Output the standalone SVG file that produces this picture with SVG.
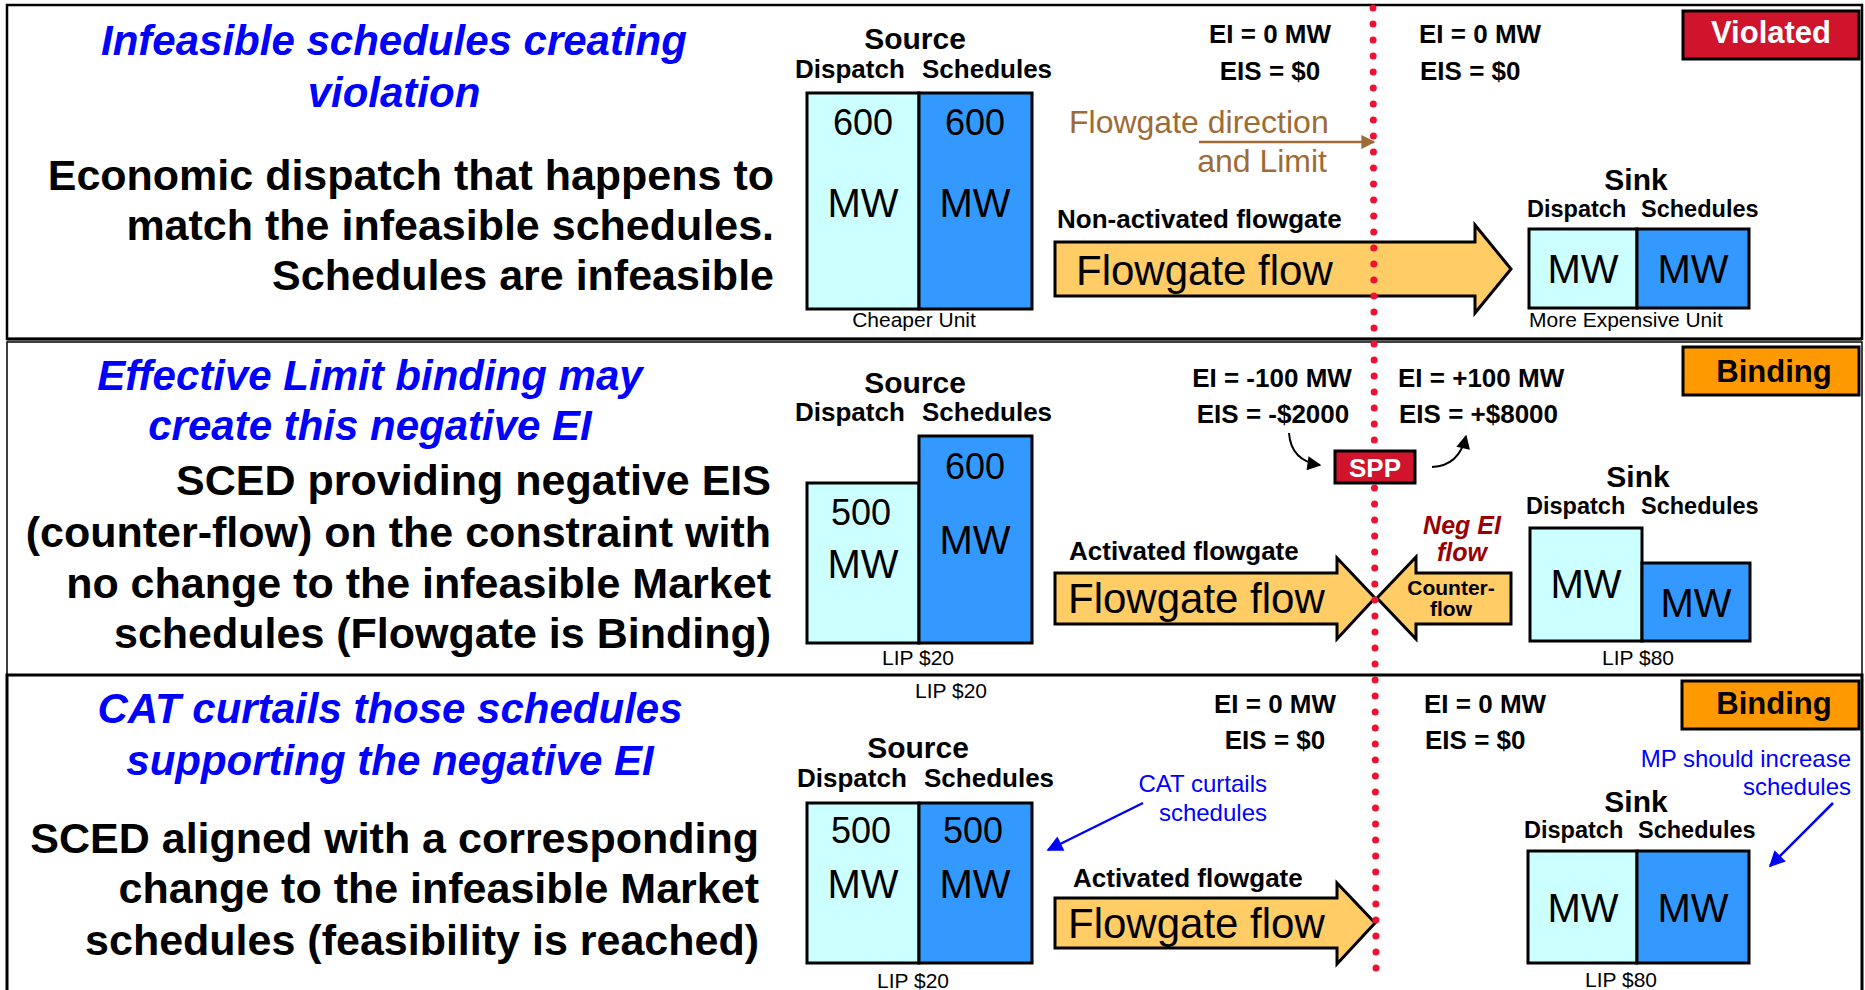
<svg xmlns="http://www.w3.org/2000/svg" width="1865" height="990" viewBox="0 0 1865 990">
<defs>
<style>
text{font-family:"Liberation Sans",Arial,sans-serif;}
.title{font-size:42px;font-weight:bold;font-style:italic;fill:#0000FF;text-anchor:middle;}
.body{font-size:43px;font-weight:bold;fill:#000;text-anchor:end;}
.hdr{font-size:30px;font-weight:bold;fill:#000;text-anchor:middle;}
.col{font-size:26px;font-weight:bold;fill:#000;}
.scol{font-size:23.5px;font-weight:bold;fill:#000;}
.num{font-size:36px;fill:#000;text-anchor:middle;}
.mw{font-size:40px;fill:#000;text-anchor:middle;}
.small{font-size:21px;fill:#000;}
.ei{font-size:26px;font-weight:bold;fill:#000;}
.lbl{font-size:26px;font-weight:bold;fill:#000;}
.ff{font-size:42px;fill:#000;}
.note{font-size:24px;fill:#0000FF;}
.neg{font-size:25px;font-weight:bold;font-style:italic;fill:#990000;text-anchor:middle;}
.light{fill:#CCFFFF;stroke:#000;stroke-width:3;}
.dark{fill:#3399FF;stroke:#000;stroke-width:3;}
.arrow{fill:#FFCC66;stroke:#000;stroke-width:3;stroke-linejoin:miter;}
.panel{fill:#FFFFFF;stroke:#000;}
.status{font-size:31px;font-weight:bold;text-anchor:middle;}
</style>
<marker id="mBrown" viewBox="0 0 10 10" refX="9" refY="5" markerUnits="userSpaceOnUse" markerWidth="16" markerHeight="14" orient="auto"><path d="M0,0 L10,5 L0,10 z" fill="#9E6B37"/></marker>
<marker id="mBlack" viewBox="0 0 10 10" refX="9" refY="5" markerUnits="userSpaceOnUse" markerWidth="16" markerHeight="14" orient="auto"><path d="M0,0 L10,5 L0,10 z" fill="#000"/></marker>
<marker id="mBlue" viewBox="0 0 10 10" refX="9" refY="5" markerUnits="userSpaceOnUse" markerWidth="20" markerHeight="16" orient="auto"><path d="M0,0 L10,5 L0,10 z" fill="#0000FF"/></marker>
</defs>
<rect width="1865" height="990" fill="#FFFFFF"/>

<g id="panels">
<rect class="panel" x="7" y="5" width="1855" height="334" stroke-width="2.5"/>
<rect class="panel" x="7" y="342" width="1855" height="333" stroke-width="1.5"/>
<line x1="7" y1="339" x2="1862" y2="339" stroke="#000" stroke-width="3"/>
<rect class="panel" x="7" y="675" width="1855" height="330" stroke-width="3"/>
</g>

<!-- Panel 1 -->
<g id="p1-text">
<text class="title" x="394" y="55">Infeasible schedules creating</text>
<text class="title" x="394" y="107">violation</text>
<text class="body" x="774" y="190">Economic dispatch that happens to</text>
<text class="body" x="774" y="240">match the infeasible schedules.</text>
<text class="body" x="774" y="290">Schedules are infeasible</text>
</g>
<g id="p1-source">
<text class="hdr" x="915" y="49">Source</text>
<text class="col" x="795" y="78">Dispatch</text>
<text class="col" x="922" y="78">Schedules</text>
<rect class="light" x="807" y="93" width="112" height="216"/>
<rect class="dark" x="919" y="93" width="113" height="216"/>
<text class="num" x="863" y="135">600</text>
<text class="mw" x="863" y="217">MW</text>
<text class="num" x="975" y="135">600</text>
<text class="mw" x="975" y="217">MW</text>
<text class="small" x="914" y="327" text-anchor="middle">Cheaper Unit</text>
</g>
<g id="p1-ei">
<text class="ei" x="1270" y="43" text-anchor="middle">EI = 0 MW</text>
<text class="ei" x="1270" y="80" text-anchor="middle">EIS = $0</text>
<text class="ei" x="1419" y="43">EI = 0 MW</text>
<text class="ei" x="1420" y="80">EIS = $0</text>
</g>
<g id="p1-direction">
<text x="1069" y="133" font-size="32" fill="#9E6B37">Flowgate direction</text>
<text x="1327" y="172" font-size="32" fill="#9E6B37" text-anchor="end">and Limit</text>
</g>
<g id="p1-flow">
<text class="lbl" x="1057" y="228">Non-activated flowgate</text>
<polygon class="arrow" points="1055,242 1475,242 1475,225 1511,269 1475,313 1475,296 1055,296"/>
<text class="ff" x="1076" y="285">Flowgate flow</text>
</g>
<g id="p1-sink">
<text class="hdr" x="1636" y="190">Sink</text>
<text class="scol" x="1527" y="217">Dispatch</text>
<text class="scol" x="1641" y="217">Schedules</text>
<rect class="light" x="1529" y="229" width="108" height="79"/>
<rect class="dark" x="1637" y="229" width="112" height="79"/>
<text class="mw" x="1583" y="283">MW</text>
<text class="mw" x="1693" y="283">MW</text>
<text class="small" x="1529" y="327">More Expensive Unit</text>
</g>
<g id="p1-status">
<rect x="1683" y="11" width="176" height="48" fill="#D0142C" stroke="#000" stroke-width="3"/>
<text class="status" x="1771" y="43" fill="#FFFFFF">Violated</text>
</g>

<!-- Panel 2 -->
<g id="p2-text">
<text class="title" x="370" y="390">Effective Limit binding may</text>
<text class="title" x="370" y="440">create this negative EI</text>
<text class="body" x="771" y="495">SCED providing negative EIS</text>
<text class="body" x="771" y="547">(counter-flow) on the constraint with</text>
<text class="body" x="771" y="598">no change to the infeasible Market</text>
<text class="body" x="771" y="648">schedules (Flowgate is Binding)</text>
</g>
<g id="p2-source">
<text class="hdr" x="915" y="393">Source</text>
<text class="col" x="795" y="421">Dispatch</text>
<text class="col" x="922" y="421">Schedules</text>
<rect class="light" x="807" y="483" width="112" height="160"/>
<rect class="dark" x="919" y="436" width="113" height="207"/>
<text class="num" x="861" y="525">500</text>
<text class="mw" x="863" y="578">MW</text>
<text class="num" x="975" y="479">600</text>
<text class="mw" x="975" y="554">MW</text>
<text class="small" x="918" y="665" text-anchor="middle">LIP $20</text>
</g>
<g id="p2-ei">
<text class="ei" x="1272" y="387" text-anchor="middle">EI = -100 MW</text>
<text class="ei" x="1273" y="423" text-anchor="middle">EIS = -$2000</text>
<text class="ei" x="1398" y="387">EI = +100 MW</text>
<text class="ei" x="1399" y="423">EIS = +$8000</text>
</g>
<g id="p2-flow">
<text class="lbl" x="1069" y="560">Activated flowgate</text>
<polygon class="arrow" points="1055,573 1337,573 1337,558 1375,598 1337,639 1337,624 1055,624"/>
<text class="ff" x="1068" y="613">Flowgate flow</text>
</g>
<g id="p2-counterflow">
<polygon class="arrow" points="1511,573 1416,573 1416,557 1377,598 1416,639 1416,624 1511,624"/>
<text x="1451" y="595" font-size="21" font-weight="bold" text-anchor="middle">Counter-</text>
<text x="1451" y="616" font-size="21" font-weight="bold" text-anchor="middle">flow</text>
<text class="neg" x="1462" y="534">Neg EI</text>
<text class="neg" x="1462" y="561">flow</text>
</g>
<g id="p2-sink">
<text class="hdr" x="1638" y="487">Sink</text>
<text class="scol" x="1526" y="514">Dispatch</text>
<text class="scol" x="1641" y="514">Schedules</text>
<rect class="light" x="1530" y="528" width="112" height="113"/>
<rect class="dark" x="1642" y="563" width="108" height="78"/>
<text class="mw" x="1586" y="598">MW</text>
<text class="mw" x="1696" y="617">MW</text>
<text class="small" x="1638" y="665" text-anchor="middle">LIP $80</text>
</g>
<g id="p2-status">
<rect x="1683" y="347" width="176" height="48" fill="#FF9900" stroke="#000" stroke-width="3"/>
<text class="status" x="1774" y="382" fill="#000">Binding</text>
</g>

<!-- Panel 3 -->
<g id="p3-text">
<text class="title" x="390" y="723">CAT curtails those schedules</text>
<text class="title" x="390" y="775">supporting the negative EI</text>
<text class="body" x="759" y="853">SCED aligned with a corresponding</text>
<text class="body" x="759" y="903">change to the infeasible Market</text>
<text class="body" x="759" y="955">schedules (feasibility is reached)</text>
</g>
<g id="p3-source">
<text class="small" x="951" y="698" text-anchor="middle">LIP $20</text>
<text class="hdr" x="918" y="758">Source</text>
<text class="col" x="797" y="787">Dispatch</text>
<text class="col" x="924" y="787">Schedules</text>
<rect class="light" x="807" y="803" width="112" height="160"/>
<rect class="dark" x="919" y="803" width="113" height="160"/>
<text class="num" x="861" y="843">500</text>
<text class="mw" x="863" y="898">MW</text>
<text class="num" x="973" y="843">500</text>
<text class="mw" x="975" y="898">MW</text>
<text class="small" x="913" y="988" text-anchor="middle">LIP $20</text>
</g>
<g id="p3-ei">
<text class="ei" x="1275" y="713" text-anchor="middle">EI = 0 MW</text>
<text class="ei" x="1275" y="749" text-anchor="middle">EIS = $0</text>
<text class="ei" x="1424" y="713">EI = 0 MW</text>
<text class="ei" x="1425" y="749">EIS = $0</text>
</g>
<g id="p3-cat-note">
<text class="note" x="1267" y="792" text-anchor="end">CAT curtails</text>
<text class="note" x="1267" y="821" text-anchor="end">schedules</text>
</g>
<g id="p3-flow">
<text class="lbl" x="1073" y="887">Activated flowgate</text>
<polygon class="arrow" points="1055,898 1337,898 1337,883 1375,923 1337,964 1337,948 1055,948"/>
<text class="ff" x="1068" y="938">Flowgate flow</text>
</g>
<g id="p3-sink">
<text class="hdr" x="1636" y="812">Sink</text>
<text class="scol" x="1524" y="838">Dispatch</text>
<text class="scol" x="1638" y="838">Schedules</text>
<rect class="light" x="1528" y="851" width="109" height="112"/>
<rect class="dark" x="1637" y="851" width="112" height="112"/>
<text class="mw" x="1583" y="922">MW</text>
<text class="mw" x="1693" y="922">MW</text>
<text class="small" x="1621" y="987" text-anchor="middle">LIP $80</text>
</g>
<g id="p3-mp-note">
<text class="note" x="1851" y="767" text-anchor="end">MP should increase</text>
<text class="note" x="1851" y="795" text-anchor="end">schedules</text>
</g>
<g id="p3-status">
<rect x="1682" y="681" width="177" height="48" fill="#FF9900" stroke="#000" stroke-width="3"/>
<text class="status" x="1774" y="714" fill="#000">Binding</text>
</g>

<g id="flowgate-line">
<line x1="1373" y1="8" x2="1376" y2="968" stroke="#EE1133" stroke-width="7" stroke-linecap="round" stroke-dasharray="0 16"/>
</g>

<g id="connectors" fill="none">
<path d="M1199,142 L1374,142" stroke="#9E6B37" stroke-width="2.5" marker-end="url(#mBrown)"/>
<path d="M1289,433 Q1291,461 1320,465" stroke="#000" stroke-width="2" marker-end="url(#mBlack)"/>
<path d="M1432,467 Q1459,466 1466,436" stroke="#000" stroke-width="2" marker-end="url(#mBlack)"/>
<path d="M1143,803 L1048,850" stroke="#0000FF" stroke-width="2.5" marker-end="url(#mBlue)"/>
<path d="M1833,803 L1770,866" stroke="#0000FF" stroke-width="2.5" marker-end="url(#mBlue)"/>
</g>

<g id="p2-spp">
<rect x="1335" y="451" width="80" height="32" fill="#D0142C" stroke="#000" stroke-width="3"/>
<text x="1375" y="477" font-size="26" font-weight="bold" fill="#FFFFFF" text-anchor="middle">SPP</text>
</g>
</svg>
